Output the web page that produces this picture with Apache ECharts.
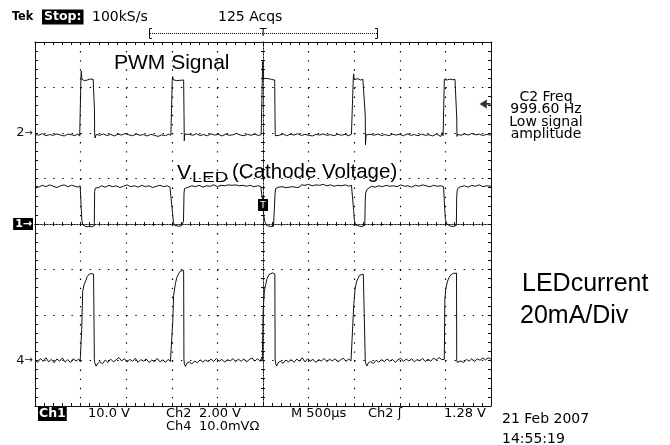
<!DOCTYPE html>
<html><head><meta charset="utf-8">
<script src="https://cdn.jsdelivr.net/npm/echarts@6/dist/echarts.min.js"></script>
<style>html,body{margin:0;padding:0;background:#fff}#c{width:670px;height:445px}</style>
</head><body><div id="c"></div>
<script>
// ---- scope settings ----
const timeRangeUs = [-2500, 2500];      // 500 µs/div, 10 div
const timeStepUs = 500;
const divRange = [-4, 4];              // 8 vertical divisions
const ch1Setting = { scale: 10, offset: 0 };   // 10.0 V/div
const ch2Setting = { scale: 2, offset: 2 };    // 2.00 V/div
const ch4Setting = { scale: 20, offset: -3 };  // 20 mA/div
const triggerLevelV = 1.28;

// ---- Ch2: PWM signal [µs, V] ----
const ch2Pwm = [
[-2500,-0.06],[-2460,-0.1],[-2420,-0.03],[-2380,-0.12],[-2340,-0.07],[-2300,-0.1],[-2260,-0.04],[-2220,-0.09],[-2180,-0.13],[-2140,-0.05],[-2100,-0.08],[-2060,-0.11],[-2030,-0.04],[-2010,-0.14],[-1998,-0.08],
[-1996,2.5],[-1992,2.72],[-1986,2.36],[-1970,2.38],[-1958,2.3],[-1945,2.36],[-1925,2.33],[-1900,2.37],[-1880,2.34],[-1862,2.36],[-1852,2.3],[-1848,1.0],[-1846,-0.1],[-1840,-0.22],[-1830,-0.06],
[-1790,-0.1],[-1750,-0.04],[-1710,-0.11],[-1670,-0.06],[-1630,-0.13],[-1590,-0.05],[-1550,-0.09],[-1510,-0.02],[-1470,-0.08],[-1430,-0.12],[-1390,-0.05],[-1350,-0.1],[-1310,-0.07],[-1270,-0.13],[-1230,-0.06],[-1190,-0.1],[-1150,-0.15],[-1110,-0.08],[-1070,-0.12],[-1035,-0.05],[-1010,-0.1],[-998,-0.09],
[-995,2.3],[-990,2.48],[-984,2.34],[-965,2.36],[-945,2.3],[-925,2.35],[-900,2.32],[-880,2.36],[-870,2.33],[-866,0.8],[-863,-0.34],[-858,-0.05],[-850,-0.12],
[-810,-0.06],[-770,-0.1],[-730,-0.03],[-690,-0.11],[-650,-0.07],[-610,-0.12],[-570,-0.04],[-530,-0.09],[-490,-0.06],[-450,-0.13],[-410,-0.05],[-370,-0.1],[-330,-0.08],[-290,-0.02],[-250,-0.09],[-210,-0.12],[-170,-0.06],[-130,-0.1],[-90,-0.05],[-50,-0.11],[-20,-0.07],[-8,-0.1],
[-5,2.9],[-2,3.15],[4,2.4],[12,2.36],[30,2.4],[50,2.33],[70,2.38],[95,2.35],[115,2.37],[128,2.33],[132,0.6],[135,-0.12],[145,-0.06],
[180,-0.1],[220,-0.04],[260,-0.12],[300,-0.05],[340,-0.09],[380,-0.03],[420,-0.11],[460,-0.06],[500,-0.1],[540,-0.13],[580,-0.06],[620,-0.09],[660,-0.04],[700,-0.1],[740,-0.07],[780,-0.12],[820,-0.05],[860,-0.1],[900,-0.06],[940,-0.12],[970,-0.05],[987,-0.09],
[990,2.4],[994,2.6],[1000,2.36],[1020,2.34],[1045,2.38],[1070,2.33],[1095,2.36],[1115,2.34],[1121,0.8],[1124,-0.52],[1130,-0.08],[1140,-0.13],
[1180,-0.06],[1220,-0.1],[1260,-0.04],[1300,-0.11],[1340,-0.07],[1380,-0.12],[1420,-0.05],[1460,-0.09],[1500,-0.06],[1540,-0.12],[1580,-0.04],[1620,-0.1],[1660,-0.07],[1700,-0.12],[1740,-0.05],[1780,-0.1],[1820,-0.08],[1860,-0.13],[1900,-0.05],[1925,-0.1],[1950,-0.15],[1965,0.02],[1975,-0.12],[1985,-0.08],
[1988,2.35],[1992,2.42],[2000,2.36],[2020,2.33],[2050,2.37],[2080,2.34],[2105,2.36],[2120,2.33],[2124,0.7],[2127,-0.15],[2135,-0.06],
[2170,-0.1],[2210,-0.04],[2250,-0.09],[2290,-0.02],[2330,-0.08],[2370,-0.05],[2410,-0.11],[2450,-0.06],[2500,-0.09]
];

// ---- Ch1: LED cathode voltage [µs, V] ----
const ch1Vled = [
[-2500,8.4],[-2460,8.1],[-2420,8.5],[-2380,8.2],[-2340,8.6],[-2300,8.3],[-2260,8.0],[-2220,8.4],[-2180,8.6],[-2140,8.2],[-2100,8.5],[-2060,8.3],[-2030,8.1],[-2005,8.4],
[-1996,8.2],[-1992,3.0],[-1986,0.8],[-1975,-0.2],[-1960,-0.5],[-1940,-0.6],[-1910,-0.55],[-1880,-0.6],[-1860,-0.5],[-1850,-0.4],[-1846,7.2],[-1838,7.9],[-1825,8.2],[-1800,8.0],
[-1770,8.4],[-1730,8.1],[-1690,8.5],[-1650,8.2],[-1610,8.4],[-1570,8.0],[-1530,8.3],[-1490,8.6],[-1450,8.2],[-1410,8.4],[-1370,8.1],[-1330,8.5],[-1290,8.2],[-1250,8.4],[-1210,8.0],[-1170,8.3],[-1130,8.5],[-1090,8.2],[-1050,8.4],[-1020,8.1],[-1000,8.3],
[-995,8.2],[-990,2.0],[-982,0.3],[-970,-0.3],[-950,-0.4],[-920,-0.5],[-895,-0.4],[-880,-0.2],[-872,0.5],[-866,6.8],[-860,7.8],[-845,8.2],[-820,8.1],
[-780,8.4],[-740,8.2],[-700,8.5],[-660,8.1],[-620,8.4],[-580,8.3],[-540,8.6],[-500,8.2],[-460,8.5],[-420,8.4],[-380,8.6],[-340,8.5],[-300,8.6],[-260,8.4],[-220,8.5],[-180,8.3],[-140,8.5],[-100,8.2],[-60,8.4],[-25,8.3],
[-5,8.3],[0,4.5],[8,2.0],[20,0.5],[40,-0.3],[60,-0.5],[80,-0.55],[100,-0.6],[115,-0.5],[128,-0.4],[132,6.5],[138,7.8],[150,8.0],[175,8.1],
[210,8.2],[250,8.0],[290,8.1],[330,8.2],[370,8.0],[400,8.1],[420,8.6],[460,8.5],[500,8.7],[540,8.4],[580,8.6],[620,8.5],[660,8.7],[700,8.4],[740,8.6],[780,8.3],[820,8.5],[860,8.4],[900,8.6],[940,8.3],[970,8.5],[986,8.4],
[990,8.3],[994,3.0],[1002,0.8],[1015,-0.2],[1035,-0.4],[1060,-0.5],[1085,-0.55],[1105,-0.5],[1116,-0.3],[1121,5.0],[1126,6.9],[1140,7.6],[1160,8.0],[1190,8.3],
[1230,8.1],[1270,8.4],[1310,8.2],[1350,8.5],[1390,8.3],[1430,8.4],[1470,8.2],[1510,8.6],[1550,8.3],[1590,8.4],[1630,8.1],[1670,8.5],[1710,8.3],[1750,8.6],[1790,8.4],[1830,8.2],[1870,8.5],[1910,8.3],[1950,8.4],[1980,8.2],
[1988,8.3],[1992,3.5],[2000,1.0],[2015,0.0],[2030,-0.4],[2060,-0.5],[2090,-0.55],[2110,-0.5],[2120,-0.3],[2124,6.0],[2130,7.5],[2145,8.0],[2170,8.2],
[2210,8.4],[2250,8.1],[2290,8.5],[2330,8.3],[2370,8.6],[2410,8.2],[2450,8.4],[2500,8.3]
];

// ---- Ch4: LED current [µs, mA] ----
const ch4Current = [
[-2500,0.3],[-2470,-0.8],[-2440,0.9],[-2410,-0.4],[-2380,1.2],[-2350,-0.6],[-2320,0.5],[-2290,-1.0],[-2260,0.7],[-2230,-0.3],[-2200,1.1],[-2170,-0.7],[-2140,0.4],[-2110,-0.9],[-2080,0.8],[-2050,-0.2],[-2020,0.6],[-2005,-0.5],
[-1996,0],[-1988,13.5],[-1977,30.5],[-1960,33.5],[-1945,35.0],[-1925,37.0],[-1905,38.0],[-1880,38.2],[-1858,38.0],[-1852,37.8],[-1849,0.5],[-1845,-1.0],[-1830,-2.5],[-1815,-1.5],
[-1790,-0.5],[-1760,-1.4],[-1730,0.2],[-1700,-0.9],[-1670,0.6],[-1640,-0.6],[-1610,0.3],[-1580,1.3],[-1550,-0.2],[-1520,0.8],[-1490,-0.7],[-1460,0.5],[-1430,-0.4],[-1400,1.0],[-1370,-0.8],[-1340,0.4],[-1310,-0.3],[-1280,0.7],[-1250,-0.9],[-1220,0.2],[-1190,-0.5],[-1160,0.9],[-1130,-0.6],[-1100,0.3],[-1070,-0.9],[-1040,0.5],[-1015,-0.4],[-1000,0.2],
[-995,0.4],[-990,17],[-980,28.5],[-962,33.5],[-945,36.5],[-925,38.2],[-905,39.3],[-885,39.8],[-870,39.6],[-867,0.5],[-862,-1.5],[-850,-2.6],[-835,-1.2],
[-810,-0.6],[-780,-1.5],[-750,-0.2],[-720,-1.0],[-690,0.3],[-660,-0.7],[-630,0.2],[-600,-0.5],[-570,0.6],[-540,-0.4],[-510,0.9],[-480,-0.3],[-450,0.5],[-420,-0.8],[-390,0.4],[-360,-0.2],[-330,0.8],[-300,-0.5],[-270,0.6],[-240,-0.3],[-210,0.7],[-180,-0.6],[-150,0.4],[-120,1.1],[-90,-0.3],[-60,0.8],[-30,-0.4],[-12,1.5],[-8,0.3],
[-5,0],[2,22],[15,30.5],[30,33.5],[45,36.0],[65,37.8],[85,38.5],[105,38.5],[125,38.3],[130,38.0],[133,0.5],[138,-1.2],[150,-2.4],[165,-1.0],
[190,-0.3],[220,-1.2],[250,0.2],[280,-0.6],[310,0.4],[340,-0.8],[370,0.6],[400,-0.3],[430,1.2],[460,-0.6],[490,0.8],[520,-0.2],[550,0.5],[580,-0.9],[610,0.4],[640,-0.3],[670,0.9],[700,-0.5],[730,0.6],[760,-0.2],[790,0.8],[820,-0.6],[850,0.3],[880,1.0],[910,-0.4],[940,0.7],[965,-0.2],[985,0.5],
[990,0.3],[996,25],[1010,31.5],[1025,34.5],[1040,36.0],[1060,37.5],[1080,37.8],[1100,37.9],[1118,37.8],[1121,0.4],[1126,-1.4],[1140,-2.4],[1155,-1.0],
[1180,-0.5],[1210,-1.3],[1240,0.1],[1270,-0.7],[1300,0.4],[1330,-0.5],[1360,0.7],[1390,-0.3],[1420,0.5],[1450,-0.8],[1480,0.3],[1510,1.0],[1540,-0.4],[1570,0.6],[1600,-0.2],[1630,0.8],[1660,-0.6],[1690,0.4],[1720,-0.1],[1750,0.9],[1780,-0.5],[1810,0.6],[1840,-0.3],[1870,1.1],[1900,0.2],[1930,1.3],[1960,0.4],[1980,1.0],
[1988,0.5],[1994,27],[2005,31.5],[2020,34.5],[2040,36.5],[2065,37.8],[2090,38.3],[2110,38.5],[2122,38.4],[2124,0.3],[2130,-0.8],[2145,-1.2],
[2170,-0.2],[2200,-0.9],[2230,0.5],[2260,-0.3],[2290,0.8],[2320,-0.5],[2350,0.7],[2380,0.1],[2410,1.1],[2440,0.3],[2470,1.2],[2500,0.6]
];

// ---- screen texts ----
const headerTexts = ['Tek', 'Stop:', '100kS/s', '125 Acqs'];
const footerRow1 = ['Ch1', '10.0 V', 'Ch2', '2.00 V', 'M 500µs', 'Ch2 ʃ', '1.28 V'];
const footerRow2 = ['Ch4', '10.0mVΩ'];
const dateTexts = ['21 Feb 2007', '14:55:19'];
const measureTexts = ['C2 Freq', '999.60 Hz', 'Low signal', 'amplitude'];

function toDiv(arr, s) { return arr.map(p => [p[0], p[1] / s.scale + s.offset]); }

const INK = '#111';
const TEK = 'DejaVu Sans';
const SANS = 'Liberation Sans';

function frameX(pos) {
  return { type: 'value', min: timeRangeUs[0], max: timeRangeUs[1], interval: timeStepUs, position: pos,
    axisLine: { onZero: false, lineStyle: { color: INK, width: 1 } },
    axisTick: { show: true, inside: true, length: 3, lineStyle: { color: INK } },
    minorTick: { show: true, splitNumber: 5, length: 3, lineStyle: { color: INK } },
    splitLine: { show: pos === 'bottom', lineStyle: { color: '#000', width: 1.2, type: [1.4, 7.7] } },
    minorSplitLine: { show: false }, axisLabel: { show: false } };
}
function centerX(inside) {
  return { type: 'value', min: timeRangeUs[0], max: timeRangeUs[1], interval: timeStepUs, position: 'bottom',
    axisLine: { onZero: true, onZeroAxisIndex: 0, lineStyle: { color: INK, width: 1, type: [1, 2] } },
    axisTick: { show: true, inside: inside, length: 2, lineStyle: { color: INK } },
    minorTick: { show: true, splitNumber: 5, length: 2, lineStyle: { color: INK } },
    splitLine: { show: false }, axisLabel: { show: false } };
}
function frameY(pos) {
  return { type: 'value', min: divRange[0], max: divRange[1], interval: 1, position: pos,
    axisLine: { onZero: false, lineStyle: { color: INK, width: 1 } },
    axisTick: { show: true, inside: true, length: 3, lineStyle: { color: INK } },
    minorTick: { show: true, splitNumber: 5, length: 3, lineStyle: { color: INK } },
    splitLine: { show: pos === 'left', lineStyle: { color: '#000', width: 1.2, type: [1.4, 7.72] } },
    axisLabel: pos === 'left' ? {
      show: true, margin: 2, showMinLabel: true, showMaxLabel: true,
      formatter: function (v) {
        if (v === ch2Setting.offset) return '{n|2}{a|→}';
        if (v === ch1Setting.offset) return '{b|1→}';
        if (v === ch4Setting.offset) return '{n|4}{a|→}';
        return '';
      },
      rich: {
        n: { fontFamily: TEK, fontSize: 13, color: INK },
        a: { fontFamily: TEK, fontSize: 10, color: INK },
        b: { fontFamily: TEK, fontSize: 11, fontWeight: 'bold', color: '#fff', backgroundColor: '#000', padding: [1, 1, 0, 2] }
      }
    } : { show: false } };
}
function centerY(inside) {
  return { type: 'value', min: divRange[0], max: divRange[1], interval: 1, position: 'left',
    axisLine: { onZero: true, onZeroAxisIndex: 0, lineStyle: { color: INK, width: 1, type: [1, 2] } },
    axisTick: { show: true, inside: inside, length: 2, lineStyle: { color: INK } },
    minorTick: { show: true, splitNumber: 5, length: 2, lineStyle: { color: INK } },
    splitLine: { show: false }, axisLabel: { show: false } };
}

function txt(x, y, text, size, opts) {
  opts = opts || {};
  const el = { type: 'text', x: x, y: y, z: 100, style: Object.assign({
    text: text, fill: '#000', font: (opts.weight || 'normal') + ' ' + size + 'px "' + (opts.family || TEK) + '"',
    align: opts.align || 'left', verticalAlign: 'middle' }, opts.extra || {}) };
  if (opts.scaleX) el.scaleX = opts.scaleX;
  return el;
}

const graphics = [
  txt(12, 17, headerTexts[0], 12.5, { weight: 'bold', family: 'DejaVu Sans Condensed' }),
  txt(42, 17, headerTexts[1], 12.5, { weight: 'bold', extra: { fill: '#fff', backgroundColor: '#000', padding: [1, 2, 1, 2] } }),
  txt(92, 17, headerTexts[2], 14),
  txt(218, 17, headerTexts[3], 14),
  // record bracket
  { type: 'line', z: 100, shape: { x1: 150, y1: 33.5, x2: 377, y2: 33.5 }, style: { stroke: INK, lineWidth: 1, lineDash: [1, 1] } },
  { type: 'polyline', z: 100, shape: { points: [[152, 28.5], [149.5, 28.5], [149.5, 38.5], [152, 38.5]] }, style: { stroke: INK, fill: null, lineWidth: 1 } },
  { type: 'polyline', z: 100, shape: { points: [[375, 28.5], [377.5, 28.5], [377.5, 38.5], [375, 38.5]] }, style: { stroke: INK, fill: null, lineWidth: 1 } },
  txt(263, 33, 'T', 11, { align: 'center' }),
  // annotations
  txt(114, 63.5, 'PWM Signal', 21, { family: SANS }),
  txt(177, 173, 'V', 21, { family: SANS }),
  txt(192, 178, 'LED', 15.5, { family: SANS, scaleX: 1.2 }),
  txt(232, 172, '(Cathode Voltage)', 20.5, { family: SANS }),
  txt(522, 284, 'LEDcurrent', 25, { family: SANS }),
  txt(520, 316.5, '20mA/Div', 25, { family: SANS }),
  // measurement
  txt(546, 97, measureTexts[0], 14, { align: 'center' }),
  txt(546, 109.5, measureTexts[1], 14, { align: 'center' }),
  txt(546, 122, measureTexts[2], 14, { align: 'center' }),
  txt(546, 134, measureTexts[3], 14, { align: 'center' }),
  // trigger box marker on screen
  { type: 'rect', z: 100, shape: { x: 258, y: 199, width: 10, height: 12 }, style: { fill: '#000' } },
  txt(263, 205.5, 'T', 9, { align: 'center', extra: { fill: '#fff' } }),
  // footer
  txt(38, 414, footerRow1[0], 12.5, { weight: 'bold', extra: { fill: '#fff', backgroundColor: '#000', padding: [1, 1, 0, 1] } }),
  txt(88, 414, footerRow1[1], 13),
  txt(166, 414, footerRow1[2], 13),
  txt(199, 414, footerRow1[3], 13),
  txt(291, 414, footerRow1[4], 13),
  txt(368, 414, footerRow1[5], 13),
  txt(444, 414, footerRow1[6], 13),
  txt(166, 427, footerRow2[0], 13),
  txt(199, 427, footerRow2[1], 13),
  txt(502, 419, dateTexts[0], 14),
  txt(502, 439, dateTexts[1], 14)
];

function trace(name, data) {
  return { name: name, type: 'line', data: data, showSymbol: false, symbol: 'none', smooth: false,
    lineStyle: { color: INK, width: 1 }, clip: true, z: 5, silent: true };
}

const chart = echarts.init(document.getElementById('c'), null, { renderer: 'canvas' });
chart.setOption({
  animation: false,
  backgroundColor: '#fff',
  grid: { left: 35, top: 42, width: 456, height: 364, containLabel: false },
  xAxis: [frameX('bottom'), frameX('top'), centerX(true), centerX(false)],
  yAxis: [frameY('left'), frameY('right'), centerY(true), centerY(false)],
  series: [
    trace('Ch2 PWM', toDiv(ch2Pwm, ch2Setting)),
    trace('Ch1 VLED', toDiv(ch1Vled, ch1Setting)),
    trace('Ch4 current', toDiv(ch4Current, ch4Setting)),
    { name: 'trigger level', type: 'scatter', clip: false, z: 6, silent: true,
      data: [[timeRangeUs[1], triggerLevelV / ch2Setting.scale + ch2Setting.offset]],
      symbol: 'path://M0,5 L8,0 L8,4 L12,4 L12,6 L8,6 L8,10 Z', symbolSize: [11, 9], symbolOffset: [-6, 0],
      itemStyle: { color: '#000' } }
  ],
  graphic: graphics
});
</script></body></html>
